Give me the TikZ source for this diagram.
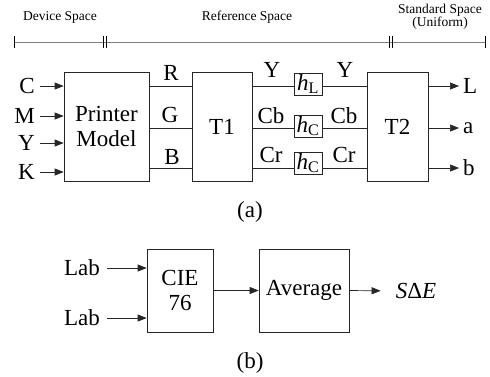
\documentclass[tikz,border=0pt]{standalone}
\usepackage{fontspec}
\setmainfont{Liberation Serif}
\usetikzlibrary{arrows.meta}
\begin{document}
\begin{tikzpicture}[x=1pt,y=-1pt,
  box/.style={draw=black!85, line width=0.7pt, inner sep=0pt, align=center},
  big/.style={font=\fontsize{23}{25}\selectfont},
  small/.style={font=\fontsize{13.5}{13}\selectfont},
  conn/.style={draw=black!85, line width=0.7pt},
  arr/.style={conn, -{Triangle[length=9pt,width=7pt]}},
  tickmark/.style={line width=1pt},
  lbl/.style={big, inner sep=2pt}]
\useasboundingbox[fill=white] (0,0) rectangle (490,376);

% ruler
\draw[gray, line width=1pt] (14,42) -- (485,42);
\foreach \x in {14,103,106,389,392,485}
  \draw[tickmark] (\x,36) -- (\x,48);
\node[small] (dev) at (60,17) {Device Space};
\node[small] (ref) at (247,17) {Reference Space};
\node[small, align=center] (std) at (440,17) {Standard Space\\(Uniform)};

% row levels
\coordinate (r1) at (0,86);
\coordinate (r2) at (0,128);
\coordinate (r3) at (0,168);

% boxes (a)
\node[box, big, minimum width=85pt, minimum height=109pt] (pm) at (106.5,126.5) {Printer\\Model};
\node[box, big, minimum width=60pt, minimum height=109pt] (t1) at (222,126.5) {T1};
\node[box, big, minimum width=28pt, minimum height=22pt] (hl) at (308,84) {\textit{h}\textsubscript{L}};
\node[box, big, minimum width=28pt, minimum height=22pt] (hc1) at (308,126) {\textit{h}\textsubscript{C}};
\node[box, big, minimum width=28pt, minimum height=22pt] (hc2) at (308,163) {\textit{h}\textsubscript{C}};
\node[box, big, minimum width=61pt, minimum height=109pt] (t2) at (397.5,126.5) {T2};

% inputs
\node[lbl, anchor=east, inner sep=5pt] (inC) at (40,86) {C};
\node[lbl, anchor=east, inner sep=5pt] (inM) at (40,116) {M};
\node[lbl, anchor=east, inner sep=5pt] (inY) at (40,143) {Y};
\node[lbl, anchor=east, inner sep=5pt] (inK) at (40,172) {K};
\foreach \n in {inC,inM,inY,inK}
  \draw[arr] (\n.east) -- (\n.east -| pm.west);

% RGB
\draw[conn] (pm.east |- r1) -- (t1.west |- r1);
\draw[conn] (pm.east |- r2) -- (t1.west |- r2);
\draw[conn] (pm.east |- r3) -- (t1.west |- r3);
\node[lbl] (lR) at (171,73) {R};
\node[lbl] (lG) at (170,115) {G};
\node[lbl] (lB) at (172,157) {B};

% YCbCr
\draw[conn] (t1.east |- r1) -- (hl.west |- r1);
\draw[conn] (hl.east |- r1) -- (t2.west |- r1);
\draw[conn] (t1.east |- r2) -- (hc1.west |- r2);
\draw[conn] (hc1.east |- r2) -- (t2.west |- r2);
\draw[conn] (t1.east |- r3) -- (hc2.west |- r3);
\draw[conn] (hc2.east |- r3) -- (t2.west |- r3);
\node[lbl] (lY1) at (272,70) {Y};
\node[lbl] (lY2) at (345,70) {Y};
\node[lbl] (lCb1) at (271,116) {Cb};
\node[lbl] (lCb2) at (344,116) {Cb};
\node[lbl] (lCr1) at (271,155) {Cr};
\node[lbl] (lCr2) at (344,155) {Cr};

% outputs
\node[lbl, anchor=west, inner sep=4pt] (oL) at (459,86) {L};
\node[lbl, anchor=west, inner sep=4pt] (oa) at (459,128) {a};
\node[lbl, anchor=west, inner sep=4pt] (ob) at (459,168) {b};
\foreach \n in {oL,oa,ob}
  \draw[arr] (\n.west -| t2.east) -- (\n.west);

\node[big] (capa) at (250,212) {(a)};

% (b)
\node[box, big, minimum width=66pt, minimum height=83pt] (cie) at (180,290.5) {CIE\\76};
\node[box, big, minimum width=90pt, minimum height=83pt] (avg) at (304,290.5) {Average};
\node[lbl, anchor=east, inner sep=7pt] (lab1) at (107,268) {Lab};
\node[lbl, anchor=east, inner sep=7pt] (lab2) at (107,318) {Lab};
\draw[arr] (lab1.east) -- (lab1.east -| cie.west);
\draw[arr] (lab2.east) -- (lab2.east -| cie.west);
\draw[arr] (cie.east) -- (avg.west);
\node[big, inner sep=0pt] (sde) at (416,291) {\textit{S}Δ\textit{E}};
\draw[arr, shorten >=15pt] (avg.east) -- (sde.west);

\node[big] (capb) at (250,363) {(b)};
\end{tikzpicture}
\end{document}
